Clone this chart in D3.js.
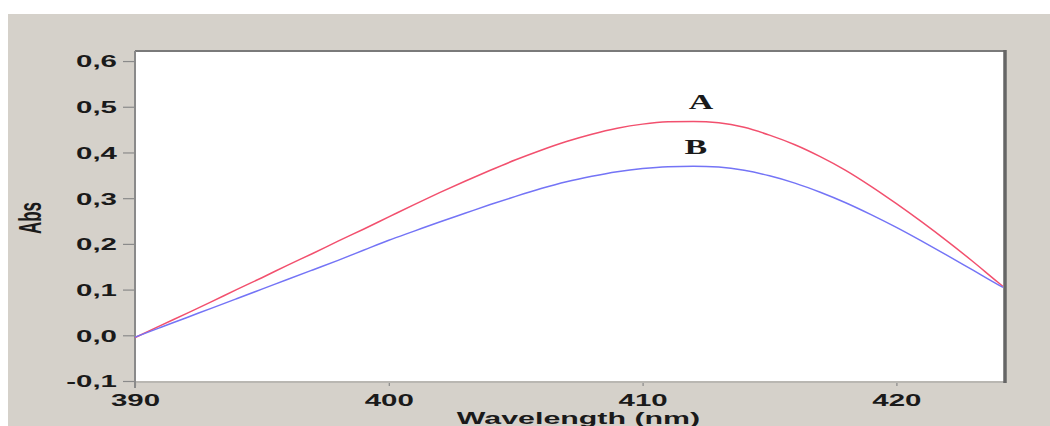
<!DOCTYPE html>
<html>
<head>
<meta charset="utf-8">
<script src="https://cdn.jsdelivr.net/npm/d3@7"></script>
<style>
  html, body { margin: 0; padding: 0; background: #ffffff; }
  svg { display: block; }
</style>
</head>
<body>
<svg id="chart" width="1050" height="426"></svg>
<script>
// Absorption spectra of two samples, A and B (Abs vs wavelength in nm)
const wavelengths = [390, 391, 392, 393, 394, 395, 396, 397, 398, 399,
                     400, 401, 402, 403, 404, 405, 406, 407, 408, 409,
                     410, 411, 412, 413, 414, 415, 416, 417, 418, 419,
                     420, 421, 422, 423, 424, 424.2];
const absA = [-0.005, 0.021, 0.047, 0.073, 0.100, 0.126, 0.153, 0.179, 0.206, 0.232,
              0.259, 0.286, 0.312, 0.337, 0.361, 0.384, 0.405, 0.424, 0.440, 0.453,
              0.462, 0.467, 0.468, 0.465, 0.455, 0.438, 0.417, 0.391, 0.361, 0.326,
              0.288, 0.248, 0.206, 0.162, 0.116, 0.107];
const absB = [-0.004, 0.017, 0.038, 0.059, 0.080, 0.101, 0.122, 0.143, 0.164, 0.186,
              0.208, 0.228, 0.248, 0.267, 0.286, 0.304, 0.321, 0.336, 0.348, 0.358,
              0.365, 0.369, 0.370, 0.368, 0.361, 0.349, 0.333, 0.313, 0.290, 0.264,
              0.236, 0.206, 0.175, 0.143, 0.111, 0.105];
const seriesNames = ["A", "B"];
const seriesColors = ["#f2506e", "#7474f6"];
const labelWavelength = [412.3, 412.1];
const xTicks = [390, 400, 410, 420];
const yTicks = [-0.1, 0.0, 0.1, 0.2, 0.3, 0.4, 0.5, 0.6];
const xTitle = "Wavelength (nm)";
const yTitle = "Abs";

const svg = d3.select("#chart");
const W = 1050, H = 426;
const plot = { left: 135, right: 1004, top: 51, bottom: 381 };
const stretch = 1.84;   // wide lettering used throughout

// window panel
svg.append("rect").attr("x", 8).attr("y", 14).attr("width", W - 8).attr("height", H - 14)
  .attr("fill", "#d5d1ca");

const x = d3.scaleLinear().domain([390, 424.2]).range([plot.left, plot.right - 1]);
const y = d3.scaleLinear().domain([-0.1, 0.622]).range([plot.bottom, plot.top]);

// plotting area
svg.append("rect")
  .attr("x", plot.left).attr("y", plot.top)
  .attr("width", plot.right - plot.left).attr("height", plot.bottom - plot.top)
  .attr("fill", "#ffffff");

const locale = d3.formatLocale({ decimal: ",", thousands: ".", grouping: [3], currency: ["", ""], minus: "-" });
const fmt = locale.format(".1f");

// y axis ticks and labels
const yAxis = svg.append("g")
  .attr("transform", `translate(${plot.left},0)`)
  .call(d3.axisLeft(y).tickValues(yTicks).tickFormat(fmt).tickSize(12));
yAxis.select(".domain").remove();
yAxis.selectAll(".tick line").attr("stroke", "#8a8a8a").attr("stroke-width", 1.2);
yAxis.selectAll(".tick text")
  .attr("x", -18 / stretch).attr("dy", "0.37em")
  .attr("transform", `scale(${stretch},1)`)
  .attr("font-family", "Liberation Sans, Arial, sans-serif")
  .attr("font-weight", "bold").attr("font-size", 16).attr("fill", "#1a1a1a");

// x axis ticks and labels
const xAxis = svg.append("g")
  .attr("transform", `translate(0,${plot.bottom})`)
  .call(d3.axisBottom(x).tickValues(xTicks).tickFormat(d3.format("d")).tickSize(5));
xAxis.select(".domain").remove();
xAxis.selectAll(".tick line").attr("stroke", "#8a8a8a").attr("stroke-width", 1.2);
xAxis.selectAll(".tick text")
  .attr("x", 0).attr("y", 25).attr("dy", 0)
  .attr("transform", `scale(${stretch},1)`)
  .attr("font-family", "Liberation Sans, Arial, sans-serif")
  .attr("font-weight", "bold").attr("font-size", 16).attr("fill", "#1a1a1a");

// frame
svg.append("line").attr("x1", plot.left).attr("x2", plot.right).attr("y1", plot.bottom + 1).attr("y2", plot.bottom + 1)
  .attr("stroke", "#b9b7b2").attr("stroke-width", 2);
svg.append("line").attr("x1", plot.left).attr("x2", plot.right).attr("y1", plot.top).attr("y2", plot.top)
  .attr("stroke", "#7a7a7a").attr("stroke-width", 2);
svg.append("line").attr("x1", plot.right + 1).attr("x2", plot.right + 1).attr("y1", plot.top - 1).attr("y2", plot.bottom + 2)
  .attr("stroke", "#666666").attr("stroke-width", 3.5);
svg.append("line").attr("x1", plot.left).attr("x2", plot.left).attr("y1", plot.top).attr("y2", plot.bottom + 7)
  .attr("stroke", "#8a8a8a").attr("stroke-width", 2);

// spectra
const series = [absA, absB];
const line = d3.line()
  .x((d, i) => x(wavelengths[i]))
  .y(d => y(d))
  .curve(d3.curveMonotoneX);
series.forEach((vals, k) => {
  svg.append("path")
    .datum(vals)
    .attr("fill", "none")
    .attr("stroke", seriesColors[k])
    .attr("stroke-width", 1.5)
    .attr("d", line);
});

// curve labels above each peak
series.forEach((vals, k) => {
  const peak = d3.max(vals);
  svg.append("text")
    .attr("transform", `translate(${x(labelWavelength[k])},${y(peak) - 12}) scale(1.7,1)`)
    .attr("text-anchor", "middle")
    .attr("font-family", "Liberation Serif, Times New Roman, serif")
    .attr("font-weight", "bold").attr("font-size", 20).attr("fill", "#1a1a1a")
    .text(seriesNames[k]);
});

// axis titles
svg.append("text")
  .attr("transform", `translate(${(plot.left + plot.right) / 2 + 9},424) scale(${stretch},1)`)
  .attr("text-anchor", "middle")
  .attr("font-family", "Liberation Sans, Arial, sans-serif")
  .attr("font-weight", "bold").attr("font-size", 16.5).attr("fill", "#1a1a1a")
  .text(xTitle);

svg.append("text")
  .attr("transform", `translate(41,218) scale(${stretch},1) rotate(-90)`)
  .attr("text-anchor", "middle")
  .attr("font-family", "Liberation Sans, Arial, sans-serif")
  .attr("font-weight", "bold").attr("font-size", 17).attr("fill", "#1a1a1a")
  .text(yTitle);
</script>
</body>
</html>
